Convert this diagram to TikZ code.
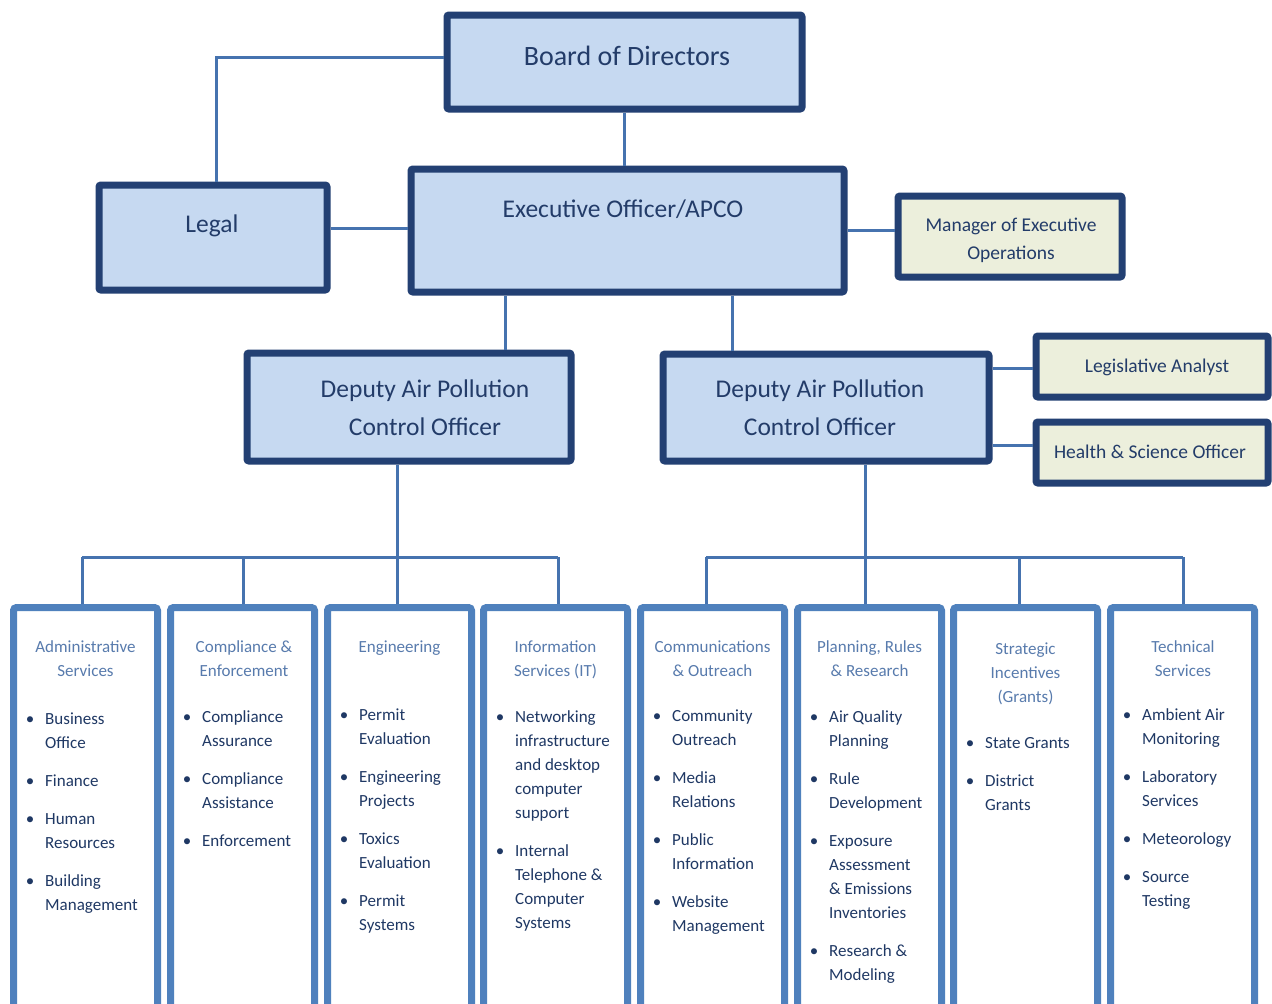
\documentclass[tikz,border=0pt]{standalone}
\usepackage{fontspec}
\setmainfont{Carlito}
\definecolor{navy}{RGB}{35,64,115}
\definecolor{boxfill}{RGB}{198,217,241}
\definecolor{cream}{RGB}{236,239,220}
\definecolor{connc}{RGB}{70,115,175}
\definecolor{colline}{RGB}{79,129,189}
\definecolor{headc}{RGB}{88,123,173}
\definecolor{itemc}{RGB}{31,56,100}
\definecolor{toptxt}{RGB}{35,60,105}
\newcommand{\blt}{\makebox[30pt][c]{\textbullet}}
\begin{document}
\begin{tikzpicture}[x=1pt,y=-1pt,
  topbox/.style={draw=navy, line width=7pt, fill=boxfill, rounded corners=2pt, inner sep=0pt},
  notebox/.style={topbox, fill=cream},
  colbox/.style={draw=colline, line width=7pt, fill=white, rounded corners=3pt, inner sep=0pt, minimum width=144pt, minimum height=420pt, anchor=north},
  conn/.style={draw=connc, line width=3pt},
  bigtxt/.style={text=toptxt, font=\fontsize{25.5}{38}\selectfont, inner sep=0pt, anchor=base},
  smalltxt/.style={text=toptxt, font=\fontsize{19.5}{28}\selectfont, inner sep=0pt, anchor=base},
  headtxt/.style={text=headc, font=\fontsize{17}{24}\selectfont, inner sep=0pt, anchor=base},
  itemtxt/.style={text=itemc, font=\fontsize{17}{24}\selectfont, inner sep=0pt, anchor=base west},
]
\clip (0,0) rectangle (1272,1004);
\fill[white] (0,0) rectangle (1272,1004);

% top level boxes
\node[topbox, minimum width=355pt, minimum height=94pt] (board) at (624.5,62) {};
\node[topbox, minimum width=228pt, minimum height=105pt] (legal) at (213,237.5) {};
\node[topbox, minimum width=433pt, minimum height=123pt] (exec) at (627.5,230.5) {};
\node[notebox, minimum width=224pt, minimum height=81pt] (mgr) at (1010,236.5) {};
\node[topbox, minimum width=324pt, minimum height=108pt] (dep1) at (409,407) {};
\node[topbox, minimum width=326pt, minimum height=107pt] (dep2) at (826,407.5) {};
\node[notebox, minimum width=232pt, minimum height=61pt] (legis) at (1152,366.5) {};
\node[notebox, minimum width=232pt, minimum height=61pt] (health) at (1152,452.5) {};

% texts of top boxes
\node[bigtxt, font=\fontsize{28}{34}\selectfont] (tboard) at (627,65) {Board of Directors};
\node[bigtxt] (tlegal) at (212,232) {Legal};
\node[bigtxt] (texec) at (623,217) {Executive Officer/APCO};
\node[smalltxt] (tmgr) at (1011,231.5) {\begin{tabular}[t]{@{}c@{}}Manager of Executive\\Operations\end{tabular}};
\node[bigtxt] (tdep1) at (425,397) {\begin{tabular}[t]{@{}c@{}}Deputy Air Pollution\\Control Officer\end{tabular}};
\node[bigtxt] (tdep2) at (820,397) {\begin{tabular}[t]{@{}c@{}}Deputy Air Pollution\\Control Officer\end{tabular}};
\node[smalltxt] (tlegis) at (1157,372) {Legislative Analyst};
\node[smalltxt] (thealth) at (1150,458) {Health \& Science Officer};

% top connectors
\draw[conn] (board.west |- 0,57) -| (legal.north -| 216,0);
\draw[conn] (board.south -| 624,0) -- (exec.north -| 624,0);
\draw[conn] (legal.east |- 0,228) -- (exec.west |- 0,228);
\draw[conn] (exec.east |- 0,230) -- (mgr.west |- 0,230);
\draw[conn] (exec.south -| 505,0) -- (dep1.north -| 505,0);
\draw[conn] (exec.south -| 732,0) -- (dep2.north -| 732,0);
\draw[conn] (dep2.east |- 0,368) -- (legis.west |- 0,368);
\draw[conn] (dep2.east |- 0,445) -- (health.west |- 0,445);

% columns
\node[colbox] (col1) at (85.5,604) {};
\node[colbox] (col2) at (242.5,604) {};
\node[colbox] (col3) at (399.5,604) {};
\node[colbox] (col4) at (555.5,604) {};
\node[colbox] (col5) at (712.5,604) {};
\node[colbox] (col6) at (869.5,604) {};
\node[colbox] (col7) at (1025.5,604) {};
\node[colbox] (col8) at (1182.5,604) {};

% bus
\coordinate (b1) at (82,557);
\coordinate (b2) at (243,557);
\coordinate (b3) at (397,557);
\coordinate (b4) at (558,557);
\coordinate (b5) at (706,557);
\coordinate (b6) at (865,557);
\coordinate (b7) at (1019,557);
\coordinate (b8) at (1183,557);
\draw[conn] (b3 |- dep1.south) -- (b3);
\draw[conn] (b6 |- dep2.south) -- (b6);
\draw[conn] (b1) -- (b4);
\draw[conn] (b5) -- (b8);
\foreach \i in {1,...,8} {\draw[conn] (b\i) -- (b\i |- col\i.north);}

% headings
\node[headtxt] (h1) at (85.5,652) {\begin{tabular}[t]{@{}c@{}}Administrative\\Services\end{tabular}};
\node[headtxt] (h2) at (244,652) {\begin{tabular}[t]{@{}c@{}}Compliance \&\\Enforcement\end{tabular}};
\node[headtxt] (h3) at (399.5,652) {Engineering};
\node[headtxt] (h4) at (555.5,652) {\begin{tabular}[t]{@{}c@{}}Information\\Services (IT)\end{tabular}};
\node[headtxt] (h5) at (712.5,652) {\begin{tabular}[t]{@{}c@{}}Communications\\\& Outreach\end{tabular}};
\node[headtxt] (h6) at (869.5,652) {\begin{tabular}[t]{@{}c@{}}Planning, Rules\\\& Research\end{tabular}};
\node[headtxt] (h7) at (1025.5,654) {\begin{tabular}[t]{@{}c@{}}Strategic\\Incentives\\(Grants)\end{tabular}};
\node[headtxt] (h8) at (1183,652) {\begin{tabular}[t]{@{}c@{}}Technical\\Services\end{tabular}};

% item lists
\node[itemtxt] (l1) at (15,724) {\begin{tabular}[t]{@{}l@{}l@{}}
\blt & Business\\ & Office\\[14pt]
\blt & Finance\\[14pt]
\blt & Human\\ & Resources\\[14pt]
\blt & Building\\ & Management\end{tabular}};
\node[itemtxt] (l2) at (172,722) {\begin{tabular}[t]{@{}l@{}l@{}}
\blt & Compliance\\ & Assurance\\[14pt]
\blt & Compliance\\ & Assistance\\[14pt]
\blt & Enforcement\end{tabular}};
\node[itemtxt] (l3) at (329,720) {\begin{tabular}[t]{@{}l@{}l@{}}
\blt & Permit\\ & Evaluation\\[14pt]
\blt & Engineering\\ & Projects\\[14pt]
\blt & Toxics\\ & Evaluation\\[14pt]
\blt & Permit\\ & Systems\end{tabular}};
\node[itemtxt] (l4) at (485,722) {\begin{tabular}[t]{@{}l@{}l@{}}
\blt & Networking\\ & infrastructure\\ & and desktop\\ & computer\\ & support\\[14pt]
\blt & Internal\\ & Telephone \&\\ & Computer\\ & Systems\end{tabular}};
\node[itemtxt] (l5) at (642,721) {\begin{tabular}[t]{@{}l@{}l@{}}
\blt & Community\\ & Outreach\\[14pt]
\blt & Media\\ & Relations\\[14pt]
\blt & Public\\ & Information\\[14pt]
\blt & Website\\ & Management\end{tabular}};
\node[itemtxt] (l6) at (799,722) {\begin{tabular}[t]{@{}l@{}l@{}}
\blt & Air Quality\\ & Planning\\[14pt]
\blt & Rule\\ & Development\\[14pt]
\blt & Exposure\\ & Assessment\\ & \& Emissions\\ & Inventories\\[14pt]
\blt & Research \&\\ & Modeling\end{tabular}};
\node[itemtxt] (l7) at (955,748) {\begin{tabular}[t]{@{}l@{}l@{}}
\blt & State Grants\\[14pt]
\blt & District\\ & Grants\end{tabular}};
\node[itemtxt] (l8) at (1112,720) {\begin{tabular}[t]{@{}l@{}l@{}}
\blt & Ambient Air\\ & Monitoring\\[14pt]
\blt & Laboratory\\ & Services\\[14pt]
\blt & Meteorology\\[14pt]
\blt & Source\\ & Testing\end{tabular}};
\end{tikzpicture}
\end{document}
